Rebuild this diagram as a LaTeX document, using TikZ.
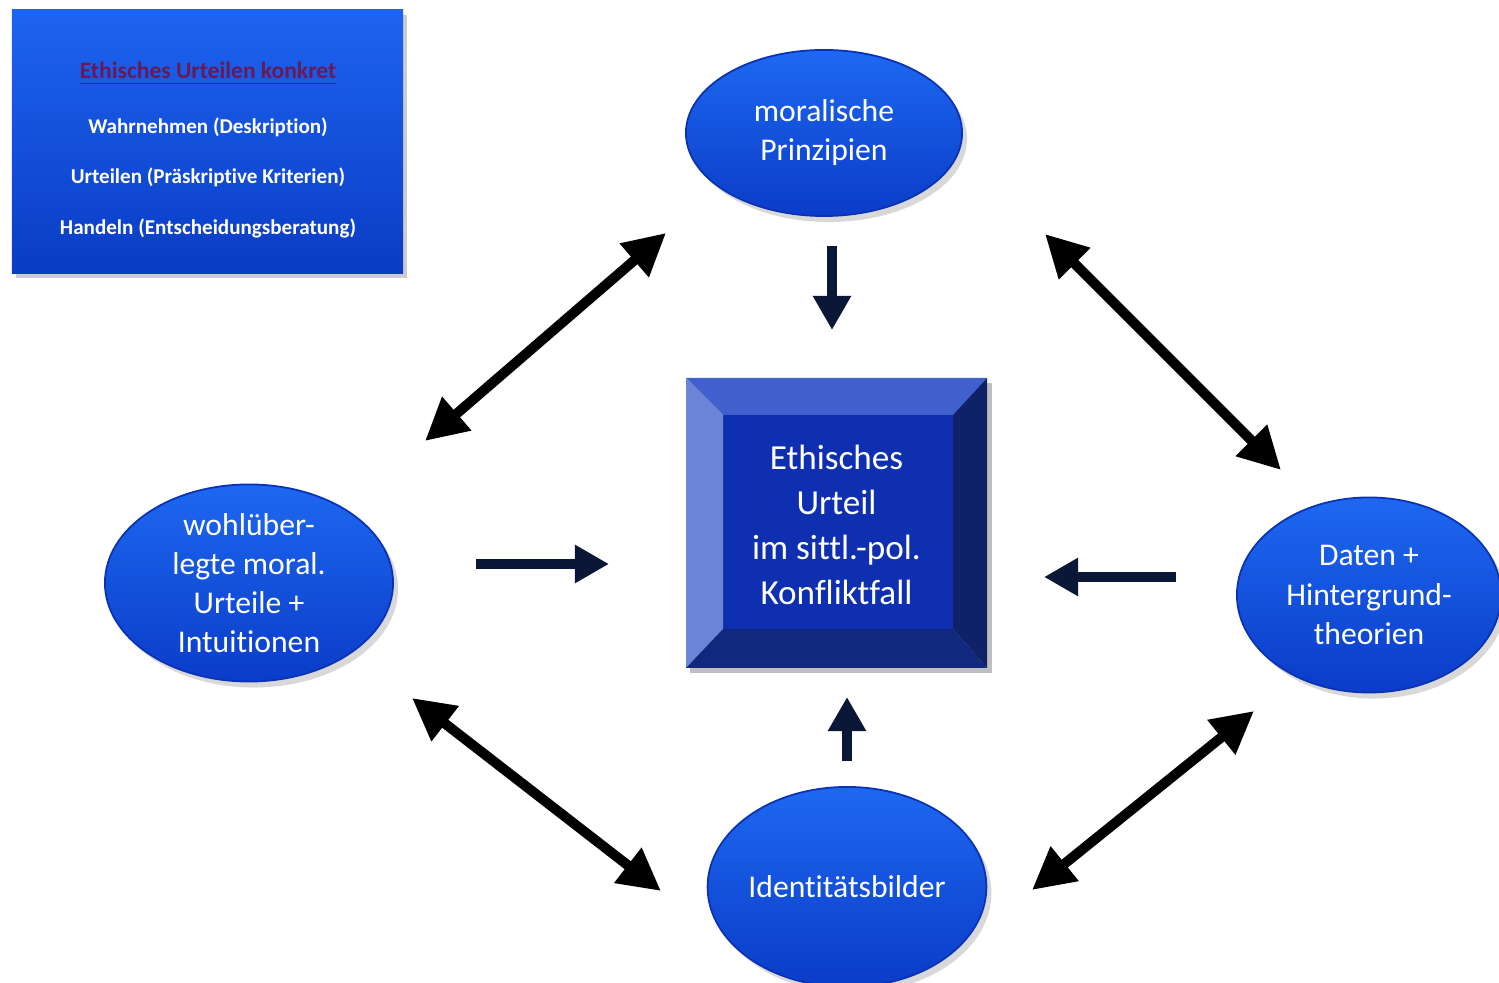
\documentclass[tikz,border=0pt]{standalone}
\usepackage{fontspec}
\setmainfont{Carlito}[Ligatures=NoCommon]
\usetikzlibrary{arrows.meta,shapes.geometric,shadows}
\definecolor{navy}{RGB}{11,23,54}
\definecolor{titlepurple}{RGB}{104,26,86}
\definecolor{bevtop}{RGB}{64,96,206}
\definecolor{bevleft}{RGB}{108,132,214}
\definecolor{bevright}{RGB}{15,34,104}
\definecolor{bevbottom}{RGB}{16,40,126}
\definecolor{face}{RGB}{14,48,176}
\tikzset{
  ell/.style={ellipse, inner sep=0pt, align=center, text=white,
    top color={rgb,255:red,30;green,104;blue,240},
    bottom color={rgb,255:red,10;green,60;blue,200},
    draw={rgb,255:red,10;green,50;blue,180}, line width=0.5pt,
    drop shadow={opacity=0.3, shadow xshift=0.05cm, shadow yshift=-0.06cm},
    font=\fontsize{9}{11.1}\selectfont},
  twoway/.style={line width=0.1cm, black, {Triangle[length=0.42cm,width=0.42cm]}-{Triangle[length=0.42cm,width=0.42cm]}},
  oneway/.style={line width=0.1cm, navy, -{Triangle[length=0.34cm,width=0.36cm]}},
  boxline/.style={text=white, font=\fontsize{6}{7}\selectfont\bfseries}
}
\begin{document}
\begin{tikzpicture}[x=0.01cm,y=-0.01cm]
\useasboundingbox[fill=white] (0,0) rectangle (1499,983);

% info box
\node[rectangle, inner sep=0pt, minimum width=3.91cm, minimum height=2.63cm,
  top color={rgb,255:red,30;green,100;blue,240},
  bottom color={rgb,255:red,10;green,60;blue,196},
  drop shadow={opacity=0.4, shadow xshift=0.04cm, shadow yshift=-0.05cm}]
  (info) at (207.5,141.5) {};
\node[text=titlepurple, font=\fontsize{6.7}{8}\selectfont\bfseries] (infotitle) at (208,74) {\underline{Ethisches Urteilen konkret}};
\node[boxline] (l1) at (208,127) {Wahrnehmen (Deskription)};
\node[boxline] (l2) at (208,177) {Urteilen (Präskriptive Kriterien)};
\node[boxline] (l3) at (208,228) {Handeln (Entscheidungsberatung)};

% ellipses
\node[ell, minimum width=2.76cm, minimum height=1.66cm] (mp) at (824,133) {moralische\\Prinzipien};
\node[ell, minimum width=2.88cm, minimum height=1.97cm] (wu) at (249,583) {wohlüber-\\legte moral.\\Urteile +\\Intuitionen};
\node[ell, minimum width=2.64cm, minimum height=1.95cm] (dh) at (1369,595) {Daten +\\Hintergrund-\\theorien};
\node[ell, minimum width=2.68cm, minimum height=2.0cm] (ib) at (847,887) {Identitätsbilder};

% center bevelled square
\fill[black, opacity=0.25] (690,383) rectangle (992,673);
\fill[face] (723,415) rectangle (953,629);
\fill[bevtop] (686,378) -- (987,378) -- (953,415) -- (723,415) -- cycle;
\fill[bevleft] (686,378) -- (723,415) -- (723,629) -- (686,668) -- cycle;
\fill[bevright] (987,378) -- (987,668) -- (953,629) -- (953,415) -- cycle;
\fill[bevbottom] (686,668) -- (987,668) -- (953,629) -- (723,629) -- cycle;
\node[align=center, text=white, font=\fontsize{10}{12.8}\selectfont] (eu) at (836.5,525) {Ethisches\\Urteil\\im sittl.-pol.\\Konfliktfall};

% arrow end points
\coordinate (a1) at (425,441); \coordinate (a2) at (666,233);
\coordinate (b1) at (1045,234); \coordinate (b2) at (1281,470);
\coordinate (c1) at (412,698); \coordinate (c2) at (661,891);
\coordinate (d1) at (1032,890); \coordinate (d2) at (1254,711);
\coordinate (e1) at (832,246); \coordinate (e2) at (832,330);
\coordinate (f1) at (476,564); \coordinate (f2) at (609,564);
\coordinate (g1) at (1176,577); \coordinate (g2) at (1044,577);
\coordinate (h1) at (847,761); \coordinate (h2) at (847,697);

\draw[twoway] (a1) -- (a2);
\draw[twoway] (b1) -- (b2);
\draw[twoway] (c1) -- (c2);
\draw[twoway] (d1) -- (d2);
\draw[oneway] (e1) -- (e2);
\draw[oneway] (f1) -- (f2);
\draw[oneway] (g1) -- (g2);
\draw[oneway] (h1) -- (h2);
\end{tikzpicture}
\end{document}
